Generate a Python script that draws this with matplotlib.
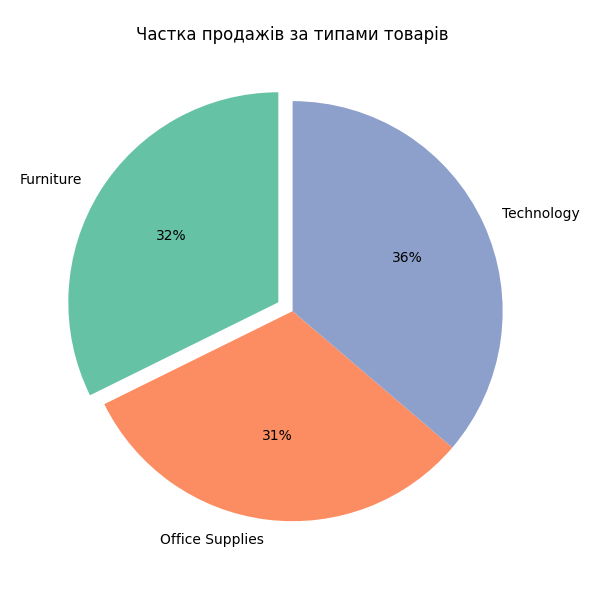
import matplotlib
matplotlib.use("Agg")
from matplotlib import pyplot as plt
import seaborn as sns

# Sales share by category (percent)
categories = ['Furniture', 'Office Supplies', 'Technology']
sales = [32.3, 31.45, 36.25]
explode = [0.08, 0, 0]

colours = sns.color_palette('Set2', 3)

fig, ax = plt.subplots(figsize=(6, 6), dpi=100)
ax.pie(sales, labels=categories, autopct='%1.0f%%', startangle=90,
       colors=colours, explode=explode)
ax.set_title('Частка продажів за типами товарів')
plt.tight_layout()

plt.savefig('out.png')
